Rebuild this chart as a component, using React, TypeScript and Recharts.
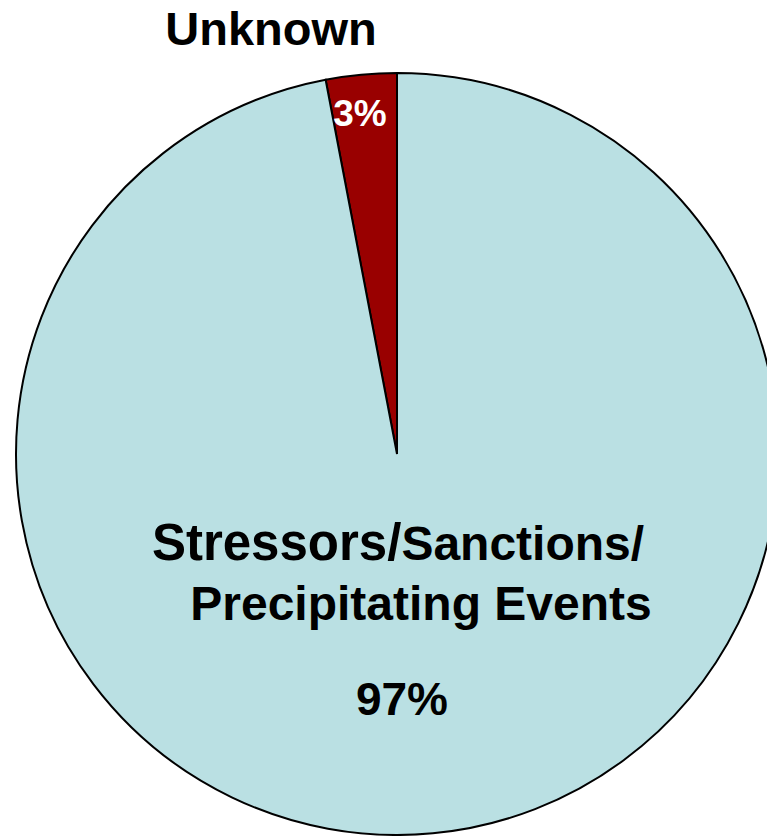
import { PieChart, Pie, Cell } from 'recharts'

const categories = ['Unknown', 'Stressors/Sanctions/Precipitating Events']
const shares = [3, 97]
const COLORS = ['#990000', '#BAE0E3']

const chartData = categories.map((name, i) => ({ name, value: shares[i] }))

const FONT = '"Liberation Sans", Arial, sans-serif'

// label drawn relative to the pie's own centre
function renderLabel(props: any) {
  const { cx, cy, index, value } = props
  if (index === 0) {
    return (
      <g>
        <text x={cx - 126} y={cy - 409} textAnchor="middle" fontFamily={FONT} fontWeight="bold" fontSize={47} fill="#000">
          {categories[0]}
        </text>
        <text x={cx - 37} y={cy - 328} textAnchor="middle" fontFamily={FONT} fontWeight="bold" fontSize={37} fill="#fff">
          {`${value}%`}
        </text>
      </g>
    )
  }
  return (
    <g>
      <text x={cx + 1} y={cy + 106} textAnchor="middle" fontFamily={FONT} fontWeight="bold" fill="#000">
        <tspan fontSize={51}>Stressors/</tspan>
        <tspan fontSize={48}>Sanctions/</tspan>
      </text>
      <text x={cx + 24} y={cy + 166} textAnchor="middle" fontFamily={FONT} fontWeight="bold" fontSize={48} fill="#000">
        Precipitating Events
      </text>
      <text x={cx + 5} y={cy + 261} textAnchor="middle" fontFamily={FONT} fontWeight="bold" fontSize={46} fill="#000">
        {`${value}%`}
      </text>
    </g>
  )
}

export default function App() {
  return (
    <div style={{ position: 'absolute', left: 0, top: 0, width: 767, height: 836, background: '#fff', overflow: 'hidden' }}>
      <PieChart width={767} height={836} margin={{ top: 0, right: 0, bottom: 0, left: 0 }}>
        <Pie
          data={chartData}
          dataKey="value"
          nameKey="name"
          cx={397}
          cy={454}
          outerRadius={381}
          startAngle={90}
          endAngle={450}
          stroke="#000"
          strokeWidth={2}
          label={renderLabel}
          labelLine={false}
          isAnimationActive={false}
        >
          {chartData.map((_, i) => (
            <Cell key={i} fill={COLORS[i % COLORS.length]} />
          ))}
        </Pie>
      </PieChart>
    </div>
  )
}
